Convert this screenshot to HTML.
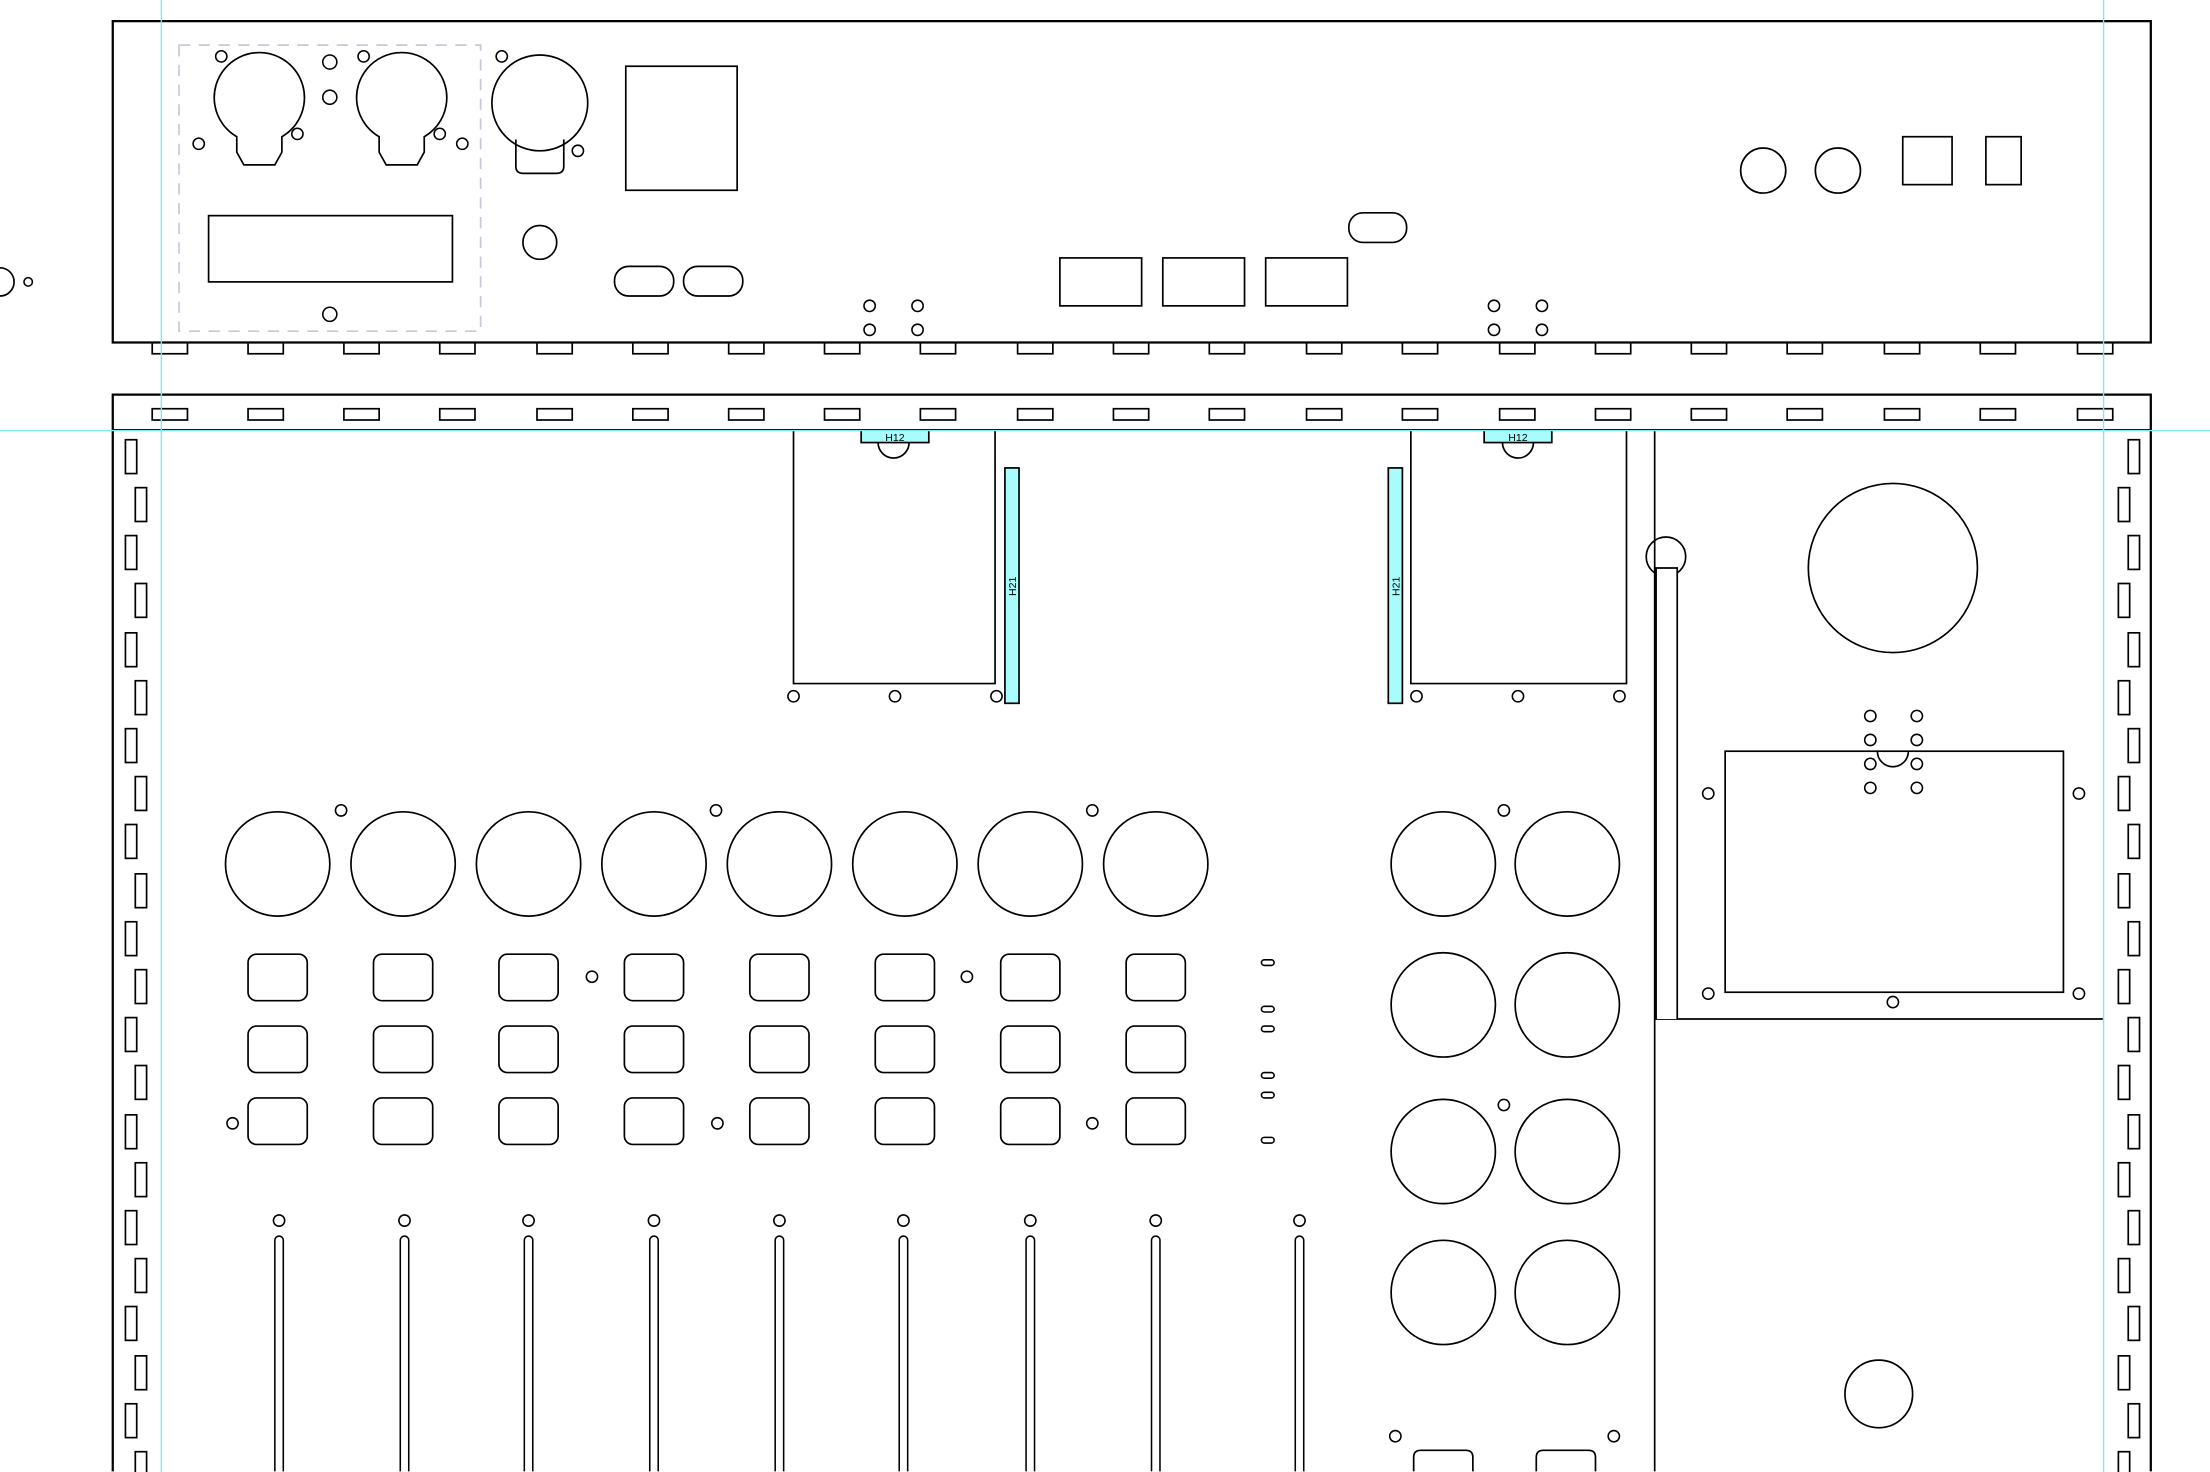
<!DOCTYPE html>
<html><head><meta charset="utf-8"><style>html,body{margin:0;padding:0;background:#fff}svg{display:block}</style></head><body>
<svg width="2210" height="1472" viewBox="0 0 1568 1044.4" preserveAspectRatio="none" xmlns="http://www.w3.org/2000/svg">
<defs>
<g id="tab"><rect x="0" y="0" width="25" height="8" fill="none" stroke="#000" stroke-width="1.2"/></g>
<g id="btn"><rect x="-21" y="0" width="42" height="33" rx="6" fill="none" stroke="#000" stroke-width="1.2"/></g>
<g id="sl"><rect x="0" y="0" width="8" height="24" fill="none" stroke="#000" stroke-width="1.2"/></g>
<g id="fd"><circle cx="0" cy="866" r="4" fill="none" stroke="#000" stroke-width="1.1"/><path d="M-3 1044 V880 A3 3 0 0 1 3 880 V1044" fill="none" stroke="#000" stroke-width="1.1"/></g>
</defs>
<g fill="none" stroke="#000" stroke-width="1.2">
<rect x="80" y="15" width="1446" height="228" stroke-width="1.6"/>
<rect x="127" y="32" width="214" height="203" stroke="#c8c8d8" stroke-dasharray="8,6"/>
<path d="M168 97 A32 32 0 1 1 200 97 V108 L195 117 H173 L168 108 Z"/>
<path d="M269 97 A32 32 0 1 1 301 97 V108 L296 117 H274 L269 108 Z"/>
<circle cx="383" cy="73" r="34"/>
<path d="M366 99 V118 Q366 123 371 123 H395 Q400 123 400 118 V99"/>
<g stroke-width="1.1">
<circle cx="157" cy="40" r="4"/><circle cx="234" cy="44" r="5"/><circle cx="234" cy="69" r="5"/><circle cx="141" cy="102" r="4"/><circle cx="211" cy="95" r="4"/><circle cx="258" cy="40" r="4"/><circle cx="312" cy="95" r="4"/><circle cx="328" cy="102" r="4"/><circle cx="356" cy="40" r="4"/><circle cx="410" cy="107" r="4"/><circle cx="234" cy="223" r="5"/>
<circle cx="617" cy="217" r="4"/><circle cx="651" cy="217" r="4"/><circle cx="617" cy="234" r="4"/><circle cx="651" cy="234" r="4"/>
<circle cx="1060" cy="217" r="4"/><circle cx="1094" cy="217" r="4"/><circle cx="1060" cy="234" r="4"/><circle cx="1094" cy="234" r="4"/>
<circle cx="20" cy="200" r="3"/>
</g>
<path d="M0 190 A10 10 0 0 1 0 210"/>
<rect x="444" y="47" width="79" height="88"/>
<rect x="148" y="153" width="173" height="47"/>
<circle cx="383" cy="172" r="12"/>
<rect x="436" y="189" width="42" height="21" rx="10"/>
<rect x="485" y="189" width="42" height="21" rx="10"/>
<rect x="752" y="183" width="58" height="34"/><rect x="825" y="183" width="58" height="34"/><rect x="898" y="183" width="58" height="34"/>
<rect x="957" y="151" width="41" height="21" rx="10"/>
<circle cx="1251" cy="121" r="16"/><circle cx="1304" cy="121" r="16"/>
<rect x="1350" y="97" width="35" height="34"/><rect x="1409" y="97" width="25" height="34"/>
<path d="M80 1044 V280 H1526 V1044" stroke-width="1.6"/>
<line x1="80" y1="305" x2="1526" y2="305"/>
</g>
<g>
<use href="#tab" x="108" y="243"/><use href="#tab" x="176" y="243"/><use href="#tab" x="244" y="243"/><use href="#tab" x="312" y="243"/><use href="#tab" x="381" y="243"/><use href="#tab" x="449" y="243"/><use href="#tab" x="517" y="243"/><use href="#tab" x="585" y="243"/><use href="#tab" x="653" y="243"/><use href="#tab" x="722" y="243"/><use href="#tab" x="790" y="243"/><use href="#tab" x="858" y="243"/><use href="#tab" x="927" y="243"/><use href="#tab" x="995" y="243"/><use href="#tab" x="1064" y="243"/><use href="#tab" x="1132" y="243"/><use href="#tab" x="1200" y="243"/><use href="#tab" x="1268" y="243"/><use href="#tab" x="1337" y="243"/><use href="#tab" x="1405" y="243"/><use href="#tab" x="1474" y="243"/>
<use href="#tab" x="108" y="290"/><use href="#tab" x="176" y="290"/><use href="#tab" x="244" y="290"/><use href="#tab" x="312" y="290"/><use href="#tab" x="381" y="290"/><use href="#tab" x="449" y="290"/><use href="#tab" x="517" y="290"/><use href="#tab" x="585" y="290"/><use href="#tab" x="653" y="290"/><use href="#tab" x="722" y="290"/><use href="#tab" x="790" y="290"/><use href="#tab" x="858" y="290"/><use href="#tab" x="927" y="290"/><use href="#tab" x="995" y="290"/><use href="#tab" x="1064" y="290"/><use href="#tab" x="1132" y="290"/><use href="#tab" x="1200" y="290"/><use href="#tab" x="1268" y="290"/><use href="#tab" x="1337" y="290"/><use href="#tab" x="1405" y="290"/><use href="#tab" x="1474" y="290"/>
<use href="#sl" x="89" y="312"/><use href="#sl" x="96" y="346"/><use href="#sl" x="89" y="380"/><use href="#sl" x="96" y="414"/><use href="#sl" x="89" y="449"/><use href="#sl" x="96" y="483"/><use href="#sl" x="89" y="517"/><use href="#sl" x="96" y="551"/><use href="#sl" x="89" y="585"/><use href="#sl" x="96" y="620"/><use href="#sl" x="89" y="654"/><use href="#sl" x="96" y="688"/><use href="#sl" x="89" y="722"/><use href="#sl" x="96" y="756"/><use href="#sl" x="89" y="791"/><use href="#sl" x="96" y="825"/><use href="#sl" x="89" y="859"/><use href="#sl" x="96" y="893"/><use href="#sl" x="89" y="927"/><use href="#sl" x="96" y="962"/><use href="#sl" x="89" y="996"/><use href="#sl" x="96" y="1030"/>
<use href="#sl" x="1510" y="312"/><use href="#sl" x="1503" y="346"/><use href="#sl" x="1510" y="380"/><use href="#sl" x="1503" y="414"/><use href="#sl" x="1510" y="449"/><use href="#sl" x="1503" y="483"/><use href="#sl" x="1510" y="517"/><use href="#sl" x="1503" y="551"/><use href="#sl" x="1510" y="585"/><use href="#sl" x="1503" y="620"/><use href="#sl" x="1510" y="654"/><use href="#sl" x="1503" y="688"/><use href="#sl" x="1510" y="722"/><use href="#sl" x="1503" y="756"/><use href="#sl" x="1510" y="791"/><use href="#sl" x="1503" y="825"/><use href="#sl" x="1510" y="859"/><use href="#sl" x="1503" y="893"/><use href="#sl" x="1510" y="927"/><use href="#sl" x="1503" y="962"/><use href="#sl" x="1510" y="996"/><use href="#sl" x="1503" y="1030"/>
</g>
<g fill="none" stroke="#000" stroke-width="1.2">
<path d="M563 305 V485 H706 V305"/>
<path d="M1001 305 V485 H1154 V305"/>
<path d="M623 314 A11 11 0 1 0 645 314"/>
<path d="M1066 314 A11 11 0 1 0 1088 314"/>
<g stroke-width="1.1"><circle cx="563" cy="494" r="4"/><circle cx="635" cy="494" r="4"/><circle cx="707" cy="494" r="4"/><circle cx="1005" cy="494" r="4"/><circle cx="1077" cy="494" r="4"/><circle cx="1149" cy="494" r="4"/></g>
<circle cx="197" cy="613" r="37"/><circle cx="286" cy="613" r="37"/><circle cx="375" cy="613" r="37"/><circle cx="464" cy="613" r="37"/><circle cx="553" cy="613" r="37"/><circle cx="642" cy="613" r="37"/><circle cx="731" cy="613" r="37"/><circle cx="820" cy="613" r="37"/>
<circle cx="1024" cy="613" r="37"/><circle cx="1112" cy="613" r="37"/><circle cx="1024" cy="713" r="37"/><circle cx="1112" cy="713" r="37"/><circle cx="1024" cy="817" r="37"/><circle cx="1112" cy="817" r="37"/><circle cx="1024" cy="917" r="37"/><circle cx="1112" cy="917" r="37"/>
<g stroke-width="1.1"><circle cx="242" cy="575" r="4"/><circle cx="508" cy="575" r="4"/><circle cx="775" cy="575" r="4"/><circle cx="1067" cy="575" r="4"/><circle cx="1067" cy="784" r="4"/>
<circle cx="420" cy="693" r="4"/><circle cx="686" cy="693" r="4"/><circle cx="165" cy="797" r="4"/><circle cx="509" cy="797" r="4"/><circle cx="775" cy="797" r="4"/>
<circle cx="990" cy="1019" r="4"/><circle cx="1145" cy="1019" r="4"/>
<rect x="895" y="681" width="9" height="4" rx="2"/><rect x="895" y="714" width="9" height="4" rx="2"/><rect x="895" y="728" width="9" height="4" rx="2"/><rect x="895" y="761" width="9" height="4" rx="2"/><rect x="895" y="775" width="9" height="4" rx="2"/><rect x="895" y="807" width="9" height="4" rx="2"/>
</g>
<path d="M1003 1044 V1034 Q1003 1029 1008 1029 H1040 Q1045 1029 1045 1034 V1044"/>
<path d="M1090 1044 V1034 Q1090 1029 1095 1029 H1127 Q1132 1029 1132 1034 V1044"/>
<line x1="1174" y1="305" x2="1174" y2="1044"/>
<line x1="1174" y1="723" x2="1492" y2="723"/>
<circle cx="1182" cy="395" r="14"/>
<path d="M1175 723 V403 H1190 V723" fill="#fff"/>
<circle cx="1343" cy="403" r="60"/>
<rect x="1224" y="533" width="240" height="171"/>
<path d="M1332 533 A11 11 0 0 0 1354 533"/>
<g stroke-width="1.1"><circle cx="1212" cy="563" r="4"/><circle cx="1475" cy="563" r="4"/><circle cx="1212" cy="705" r="4"/><circle cx="1475" cy="705" r="4"/><circle cx="1343" cy="711" r="4"/>
<circle cx="1327" cy="508" r="4"/><circle cx="1360" cy="508" r="4"/><circle cx="1327" cy="525" r="4"/><circle cx="1360" cy="525" r="4"/><circle cx="1327" cy="542" r="4"/><circle cx="1360" cy="542" r="4"/><circle cx="1327" cy="559" r="4"/><circle cx="1360" cy="559" r="4"/></g>
<circle cx="1333" cy="989" r="24"/>
</g>
<g stroke="#000" stroke-width="1.1" fill="none">
<use href="#btn" x="197" y="677"/><use href="#btn" x="286" y="677"/><use href="#btn" x="375" y="677"/><use href="#btn" x="464" y="677"/><use href="#btn" x="553" y="677"/><use href="#btn" x="642" y="677"/><use href="#btn" x="731" y="677"/><use href="#btn" x="820" y="677"/>
<use href="#btn" x="197" y="728"/><use href="#btn" x="286" y="728"/><use href="#btn" x="375" y="728"/><use href="#btn" x="464" y="728"/><use href="#btn" x="553" y="728"/><use href="#btn" x="642" y="728"/><use href="#btn" x="731" y="728"/><use href="#btn" x="820" y="728"/>
<use href="#btn" x="197" y="779"/><use href="#btn" x="286" y="779"/><use href="#btn" x="375" y="779"/><use href="#btn" x="464" y="779"/><use href="#btn" x="553" y="779"/><use href="#btn" x="642" y="779"/><use href="#btn" x="731" y="779"/><use href="#btn" x="820" y="779"/>
<use href="#fd" x="198"/><use href="#fd" x="287"/><use href="#fd" x="375"/><use href="#fd" x="464"/><use href="#fd" x="553"/><use href="#fd" x="641"/><use href="#fd" x="731"/><use href="#fd" x="820"/><use href="#fd" x="922"/>
</g>
<g stroke="#000" stroke-width="1.2" fill="#a8fcfc">
<rect x="611" y="305" width="48" height="9"/><rect x="1053" y="305" width="48" height="9"/>
<rect x="713" y="332" width="10" height="167"/><rect x="985" y="332" width="10" height="167"/>
</g>
<g font-family="Liberation Sans, sans-serif" font-size="7.5" fill="#000" text-anchor="middle">
<text x="635" y="313">H12</text><text x="1077" y="313">H12</text>
<text transform="translate(721,416) rotate(-90)">H21</text>
<text transform="translate(993,416) rotate(-90)">H21</text>
</g>
<g stroke="#7fe8f0" stroke-width="1">
<line x1="114.5" y1="0" x2="114.5" y2="1044.4"/><line x1="1492.5" y1="0" x2="1492.5" y2="1044.4"/><line x1="0" y1="305.5" x2="1568" y2="305.5"/>
</g>
</svg>
</body></html>
